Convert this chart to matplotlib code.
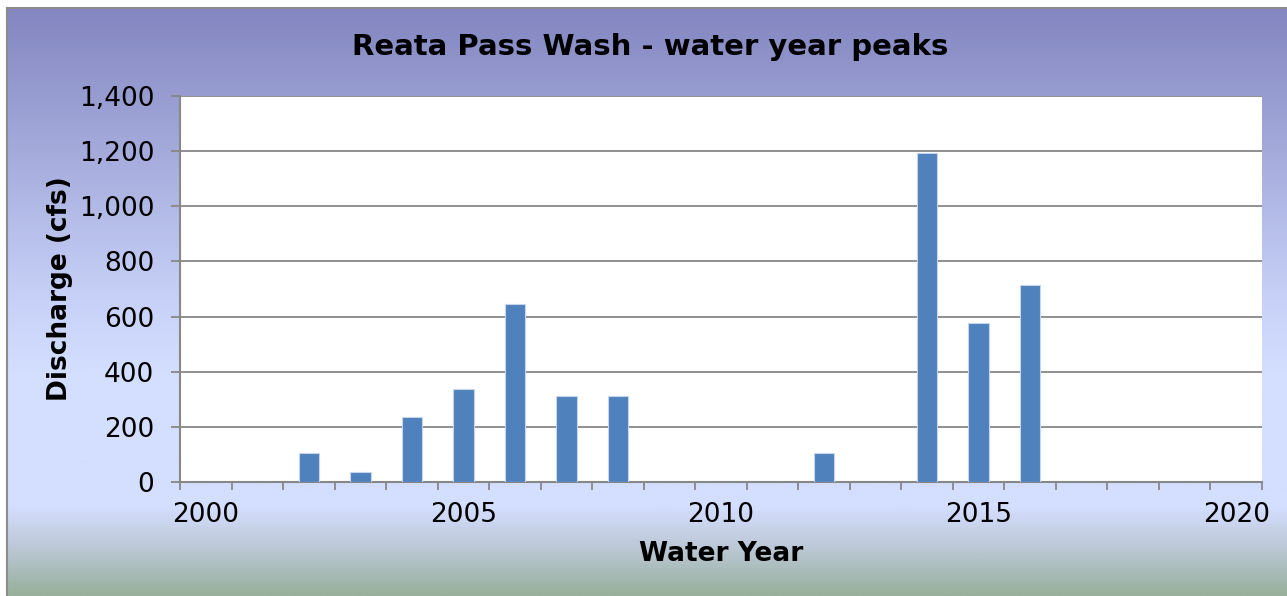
import numpy as np
import matplotlib
matplotlib.use('Agg')
import matplotlib.pyplot as plt
from matplotlib.ticker import StrMethodFormatter, MultipleLocator
from matplotlib.colors import LinearSegmentedColormap

# water year peaks (cfs)
years=[2002,2003,2004,2005,2006,2007,2008,2012,2014,2015,2016]
peaks=[106,35,236,338,646,311,311,106,1195,575,714]
label_years=[2000,2005,2010,2015,2020]
title='Reata Pass Wash - water year peaks'

W,H=1287,596
fig=plt.figure(figsize=(W/100,H/100),dpi=100,facecolor='white')

'''background gradient, purple on top -> light blue -> grey green'''
bg=fig.add_axes([7/W,0,1-7/W,1-8/H],zorder=-10)
stops=[(0.0,(131,134,192)),(0.5,(200,210,248)),(0.62,(212,222,255)),
       (0.85,(212,222,255)),(0.92,(188,200,214)),(1.0,(152,176,156))]
cmap=LinearSegmentedColormap.from_list('bgcm',[(p,tuple(c/255 for c in rgb)) for p,rgb in stops])
bg.imshow(np.linspace(0,1,400).reshape(-1,1),aspect='auto',cmap=cmap,extent=[0,1,1,0])
bg.set_xticks([]); bg.set_yticks([])
for s in ['right','bottom']:
    bg.spines[s].set_visible(False)
for s in ['left','top']:
    bg.spines[s].set_color('#8c8c8c'); bg.spines[s].set_linewidth(1.5)

ax=fig.add_axes([180/W,(H-482)/H,1082/W,386/H])
ax.set_facecolor('white')
ax.bar(years,peaks,width=0.4,color='#4F81BD',edgecolor='#C5D6EC',linewidth=0.8,zorder=3)

ax.set_xlim(1999.5,2020.5)
ax.set_ylim(0,1400)
ax.yaxis.set_major_locator(MultipleLocator(200))
ax.yaxis.set_major_formatter(StrMethodFormatter('{x:,.0f}'))
ax.set_xticks(label_years)
ax.set_xticks(np.arange(1999.5,2021,1),minor=True)

gc='#878787'
ax.grid(axis='y',color=gc,linewidth=1.3,zorder=1)
for s in ['top','right']:
    ax.spines[s].set_visible(False)
for s in ['left','bottom']:
    ax.spines[s].set_color(gc); ax.spines[s].set_linewidth(1.5)

ax.tick_params(axis='x',which='major',length=0,pad=14.4,labelsize=19)
ax.tick_params(axis='x',which='minor',length=6,width=1.3,color=gc,direction='out')
ax.tick_params(axis='y',length=6.5,width=1.3,color=gc,pad=12,labelsize=19)

ax.set_xlabel('Water Year',fontsize=19,fontweight='bold')
ax.xaxis.set_label_coords(0.5,-0.153)
ax.set_ylabel('Discharge (cfs)',fontsize=19,fontweight='bold')
ax.yaxis.set_label_coords(-0.099,0.5)

fig.text(650/W,(H-55)/H,title,fontsize=21,fontweight='bold',ha='center',va='baseline')

plt.savefig('out.png',dpi=100)
